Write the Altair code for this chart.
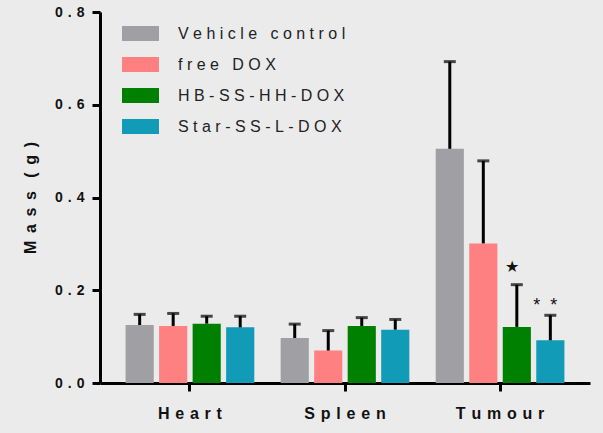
import altair as alt
import pandas as pd

organs = ["Heart", "Spleen", "Tumour"]
groups = ["Vehicle control", "free DOX", "HB-SS-HH-DOX", "Star-SS-L-DOX"]
colors = ["#a09fa4", "#ff8080", "#008000", "#129bb6"]

vehicle_mass = [0.125, 0.097, 0.505]
free_dox_mass = [0.123, 0.070, 0.301]
hb_mass = [0.128, 0.123, 0.121]
star_mass = [0.120, 0.115, 0.092]

vehicle_err = [0.023, 0.030, 0.188]
free_dox_err = [0.027, 0.043, 0.178]
hb_err = [0.016, 0.018, 0.091]
star_err = [0.024, 0.022, 0.054]

annot_organ = ["Tumour", "Tumour"]
annot_group = ["HB-SS-HH-DOX", "Star-SS-L-DOX"]
annot_text = ["★", "*\u00a0\u00a0*"]
annot_size = [16, 18]
annot_y = [0.250, 0.166]

rows = []
for g, m, e in zip(groups, [vehicle_mass, free_dox_mass, hb_mass, star_mass],
                   [vehicle_err, free_dox_err, hb_err, star_err]):
    for o, mv, ev in zip(organs, m, e):
        rows.append({"organ": o, "group": g, "mass": mv, "err": ev})
df = pd.DataFrame(rows)
ann = pd.DataFrame({"organ": annot_organ, "group": annot_group,
                    "label": annot_text, "size": annot_size, "y": annot_y})

FONT = "Liberation Sans"
spaced = "join(split(datum.label, ''), '\u00a0')"
spaced_wide = "join(split(datum.label, ''), '\u00a0\u200a')"
gap = "\u00a0\u2009"
y_title = gap.join("Mass") + "\u00a0\u00a0\u00a0" + gap.join("(g)")

x_enc = alt.X("organ:N", scale=alt.Scale(domain=organs, paddingInner=0.17, paddingOuter=0.165),
              axis=alt.Axis(title=None, labelAngle=0, labelExpr=spaced_wide, labelFont=FONT,
                            labelFontSize=16, labelFontWeight="bold", labelColor="#111",
                            labelPadding=14, tickSize=8, tickWidth=3, tickColor="black",
                            domainWidth=3, domainColor="black"))
xo_enc = alt.XOffset("group:N", scale=alt.Scale(domain=groups, paddingInner=0.16, paddingOuter=0))
y_scale = alt.Scale(domain=[0, 0.8], nice=False)

base = alt.Chart(df).transform_calculate(top="datum.mass + datum.err")

bars = base.mark_bar().encode(
    x=x_enc, xOffset=xo_enc,
    y=alt.Y("mass:Q", scale=y_scale,
            axis=alt.Axis(values=[0, 0.2, 0.4, 0.6, 0.8], format=".1f", labelExpr=spaced_wide,
                          title=y_title,
                          titleFont=FONT, titleFontSize=16, titleFontWeight="bold",
                          titleColor="#111", titlePadding=16,
                          labelFont=FONT, labelFontSize=14, labelFontWeight="bold",
                          labelColor="#111", labelPadding=8, tickSize=8, tickWidth=3,
                          tickColor="black", domainWidth=3, domainColor="black", grid=False)),
    color=alt.Color("group:N", scale=alt.Scale(domain=groups, range=colors),
                    legend=alt.Legend(title=None, orient="none", legendX=22, legendY=3,
                                      symbolType="M-1,-0.4H1V0.4H-1Z", symbolSize=1369,
                                      symbolStrokeWidth=0, symbolOpacity=1,
                                      labelFont=FONT, labelFontSize=16, labelColor="#222",
                                      labelExpr=spaced, labelOffset=19, labelLimit=0,
                                      rowPadding=4, padding=0)),
)

rules = base.mark_rule(color="black", strokeWidth=3).encode(
    x=x_enc, xOffset=xo_enc, y=alt.Y("mass:Q", scale=y_scale), y2="top:Q")

caps = base.mark_tick(color="black", thickness=3, size=12).encode(
    x=x_enc, xOffset=xo_enc, y=alt.Y("top:Q", scale=y_scale))

stars = alt.Chart(ann).mark_text(font=FONT, color="#111", baseline="middle", dx=-5).encode(
    x=x_enc, xOffset=xo_enc, y=alt.Y("y:Q", scale=y_scale), text="label:N",
    size=alt.Size("size:Q", scale=None, legend=None))

chart = alt.layer(bars, rules, caps, stars).properties(
    width=490, height=371,
    autosize=alt.AutoSizeParams(type="none"),
    padding={"left": 100, "top": 12, "right": 13, "bottom": 50},
    background="#ebebeb",
).configure_view(stroke=None)

chart.save("out.html", embed_options={"renderer": "svg", "actions": False})
